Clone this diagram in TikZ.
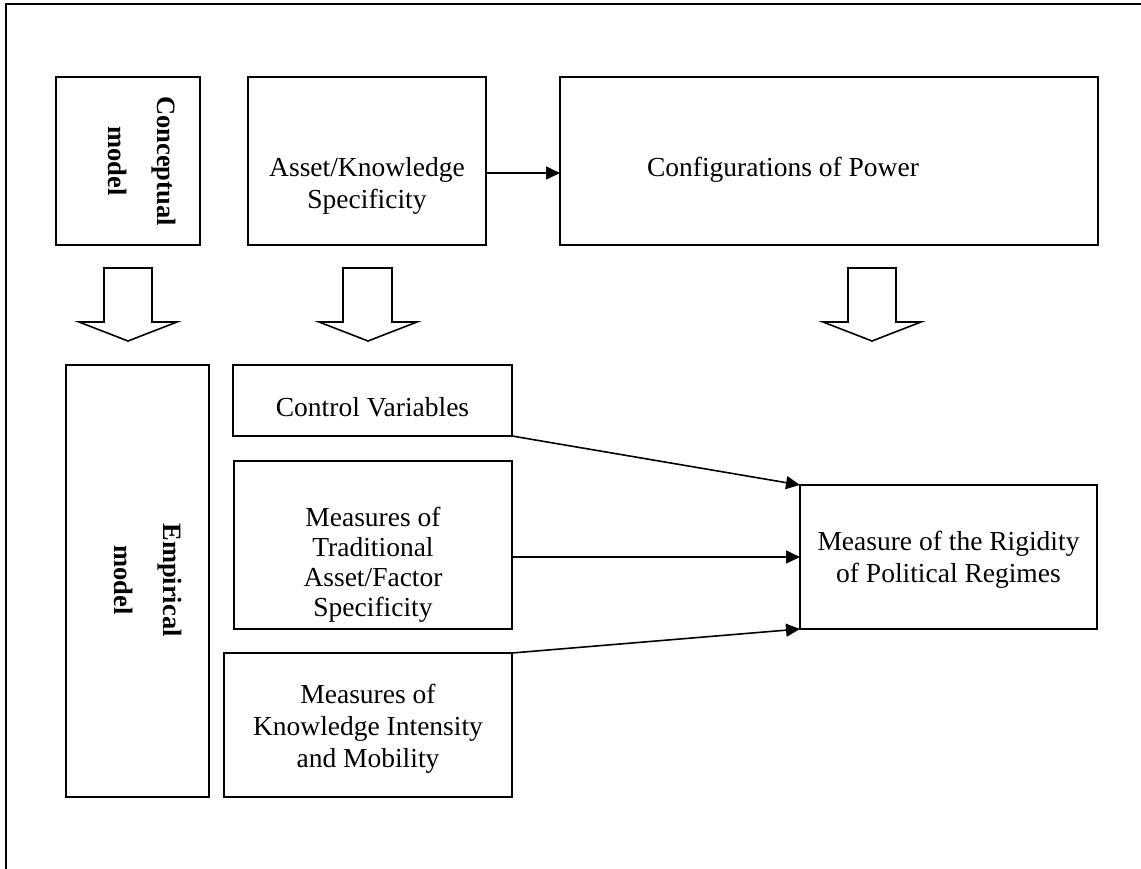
\documentclass[tikz,border=0pt]{standalone}
\usepackage{fontspec}
\setmainfont{Liberation Serif}
\usetikzlibrary{arrows.meta}
\tikzset{
  box/.style={draw, line width=2pt, rectangle, inner sep=0pt, outer sep=0pt},
  lbl/.style={anchor=base, inner sep=0pt, font=\fontsize{27.5}{32}\selectfont},
  vlbl/.style={anchor=base, inner sep=0pt, rotate=-90, font=\fontsize{26.5}{49}\selectfont\bfseries},
  arr/.style={line width=1.6pt, -{Triangle[length=14pt,width=13pt]}},
  blockarrow/.style={draw, line width=1.6pt, line join=miter, fill=white},
  frame/.style={line width=2pt}
}
\newcommand{\ml}[1]{\begin{tabular}[t]{@{}c@{}}#1\end{tabular}}
\begin{document}
\begin{tikzpicture}[x=1pt,y=-1pt]
\useasboundingbox (0,0) rectangle (1141,869);
% outer frame (top and left only visible)
\coordinate (fr0) at (6,4);
\coordinate (fr1) at (1141,4);
\coordinate (fr2) at (6,869);
\draw[frame] (fr1) -- (fr0) -- (fr2);

% boxes
\node[box, minimum width=144pt, minimum height=168pt] (concept) at (128,161) {};
\node[box, minimum width=238pt, minimum height=168pt] (asset) at (367,161) {};
\node[box, minimum width=538pt, minimum height=168pt] (config) at (829,161) {};
\node[box, minimum width=143pt, minimum height=432pt] (emp) at (137.5,581) {};
\node[box, minimum width=279pt, minimum height=71pt] (ctrl) at (372.5,400.5) {};
\node[box, minimum width=278pt, minimum height=168pt] (trad) at (373,545) {};
\node[box, minimum width=288pt, minimum height=144pt] (know) at (368,725) {};
\node[box, minimum width=297pt, minimum height=144pt] (rig) at (948.5,557) {};

% texts
\node[vlbl] (conceptT) at (157,161) {\ml{Conceptual\\model}};
\node[vlbl] (empT) at (163,580) {\ml{Empirical\\model}};
\node[lbl] (assetT) at (367,177) {\ml{Asset/Knowledge\\Specificity}};
\node[lbl] (configT) at (783,177) {Configurations of Power};
\node[lbl] (ctrlT) at (372.5,416) {Control Variables};
\node[lbl, font=\fontsize{27.5}{30}\selectfont] (tradT) at (373,526) {\ml{Measures of\\Traditional\\Asset/Factor\\Specificity}};
\node[lbl] (knowT) at (368,703) {\ml{Measures of\\Knowledge Intensity\\and Mobility}};
\node[lbl] (rigT) at (948.5,550) {\ml{Measure of the Rigidity\\of Political Regimes}};

% block arrows
\draw[blockarrow] (104,268) -- (104,322) -- (79,322) -- (128,341) -- (177,322) -- (152,322) -- (152,268) -- cycle;
\draw[blockarrow] (343,268) -- (343,322) -- (319,322) -- (368,341) -- (417,322) -- (392,322) -- (392,268) -- cycle;
\draw[blockarrow] (848,268) -- (848,322) -- (823,322) -- (872,341) -- (921,322) -- (896,322) -- (896,268) -- cycle;

% connectors
\draw[arr] ([yshift=-12pt]asset.east) -- ([yshift=-12pt]config.west);
\draw[arr] (ctrl.south east) -- (rig.north west);
\draw[arr] (trad.east |- rig.west) -- (rig.west);
\draw[arr] (know.north east) -- (rig.south west);
\end{tikzpicture}
\end{document}
